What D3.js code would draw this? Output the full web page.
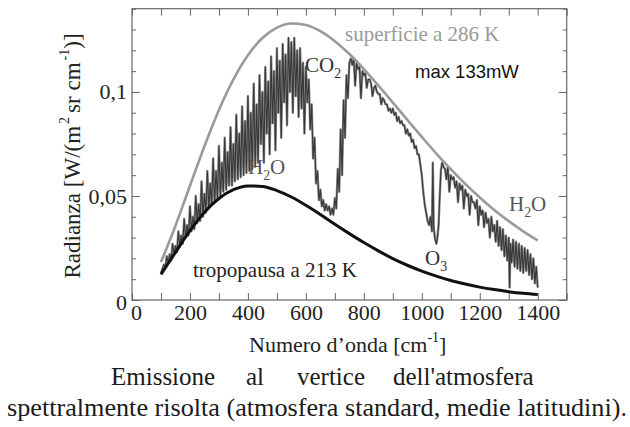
<!DOCTYPE html>
<html><head><meta charset="utf-8">
<script src="https://cdn.jsdelivr.net/npm/d3@7"></script>
<style>
html,body{margin:0;padding:0;background:#fff;}
svg{display:block;}
</style></head>
<body>
<svg id="chart" width="630" height="427"></svg>
<script>
// ---- data ----
const xTickLabels = [0, 200, 400, 600, 800, 1000, 1200, 1400];
const yTickLabels = [0, 0.05, 0.1];
const yTickText = ["0", "0,05", "0,1"];

const curveNu = [100,150,200,250,300,350,400,450,500,550,600,650,700,750,800,850,900,950,1000,1050,1100,1150,1200,1250,1300,1350,1400];
const surface286 = [0.0182,0.0357,0.0549,0.0739,0.0913,0.1060,0.1176,0.1259,0.1309,0.1329,0.1322,0.1292,0.1244,0.1182,0.1110,0.1031,0.0949,0.0866,0.0784,0.0704,0.0629,0.0558,0.0493,0.0433,0.0379,0.0330,0.0286];
const tropo213 = [0.0123,0.0229,0.0333,0.0422,0.0488,0.0530,0.0548,0.0546,0.0526,0.0495,0.0455,0.0411,0.0364,0.0319,0.0276,0.0236,0.0199,0.0167,0.0139,0.0115,0.0094,0.0077,0.0062,0.0050,0.0040,0.0032,0.0026];

// top-of-atmosphere spectrum: [wavenumber, radiance]
const spectrum = [
 [100,.013],[105,.015],[110,.017],[115,.016],[120,.021],[125,.018],[130,.022],[135,.019],[140,.027],[145,.022],
 [150,.026],[155,.023],[160,.033],[165,.026],[170,.031],[175,.027],[180,.039],[185,.030],[190,.036],[195,.031],
 [200,.045],[205,.033],[210,.040],[215,.034],[220,.050],[225,.037],[230,.046],[235,.038],[240,.057],[245,.040],
 [250,.051],[255,.042],[260,.062],[265,.044],[270,.056],[275,.046],[280,.068],[285,.047],[290,.062],[295,.049],
 [300,.074],[305,.050],[310,.066],[315,.052],[320,.078],[325,.053],[330,.071],[335,.055],[340,.083],[345,.055],
 [350,.075],[355,.057],[360,.089],[365,.058],[370,.080],[375,.059],[380,.093],[385,.060],[390,.086],[395,.061],
 [400,.098],[405,.062],[410,.090],[415,.063],[420,.104],[425,.064],[430,.094],[435,.066],[440,.108],[445,.075],
 [450,.100],[455,.066],[460,.112],[465,.080],[470,.105],[475,.070],[480,.117],[485,.085],[490,.110],[495,.072],
 [500,.121],[505,.090],[510,.115],[515,.078],[520,.123],[525,.095],[530,.118],[535,.084],[540,.126],[545,.100],
 [550,.124],[555,.090],[560,.126],[565,.098],[570,.120],[575,.088],[580,.121],[585,.092],[590,.114],[595,.080],
 [600,.112],[605,.095],[610,.106],[615,.082],[620,.094],[625,.068],[630,.078],[635,.056],[640,.062],[645,.048],
 [650,.053],[655,.045],[660,.048],[665,.043],[670,.046],[675,.043],[680,.045],[685,.041],[690,.044],[695,.041],
 [700,.049],[705,.044],[710,.063],[715,.052],[720,.082],[725,.060],[730,.096],[735,.078],[740,.108],[745,.097],
 [750,.114],[755,.116],[760,.113],[765,.116],[770,.103],[775,.114],[780,.111],[785,.112],[790,.097],[795,.110],
 [800,.108],[805,.109],[810,.102],[815,.106],[820,.106],[825,.104],[830,.098],[835,.102],[840,.103],[845,.100],
 [850,.099],[855,.099],[860,.094],[865,.097],[870,.096],[875,.094],[880,.094],[885,.091],[890,.092],[895,.090],
 [900,.092],[905,.089],[910,.090],[915,.086],[920,.088],[925,.085],[930,.086],[935,.084],[940,.084],[945,.080],
 [950,.082],[955,.079],[960,.080],[965,.076],[970,.077],[975,.073],[980,.074],[985,.070],[990,.070],[1000,.060],
 [1005,.052],[1010,.046],[1015,.042],[1020,.038],[1025,.036],[1030,.040],[1035,.033],[1038,.066],[1041,.035],[1045,.030],
 [1050,.027],[1053,.029],[1058,.036],[1062,.050],[1066,.062],[1070,.066],[1075,.064],[1080,.063],[1085,.058],[1090,.064],
 [1095,.052],[1100,.060],[1105,.058],[1110,.059],[1115,.054],[1120,.057],[1125,.047],[1130,.056],[1135,.053],[1140,.055],
 [1145,.044],[1150,.053],[1155,.050],[1160,.051],[1165,.041],[1170,.050],[1175,.047],[1180,.047],[1185,.044],[1190,.048],
 [1195,.036],[1200,.045],[1205,.041],[1210,.043],[1215,.035],[1220,.042],[1225,.037],[1230,.039],[1235,.030],[1240,.040],
 [1245,.033],[1250,.036],[1255,.028],[1260,.038],[1265,.026],[1270,.035],[1275,.024],[1280,.034],[1285,.021],[1290,.031],
 [1295,.019],[1300,.030],[1303,.006],[1306,.027],[1310,.018],[1315,.029],[1320,.016],[1325,.028],[1330,.015],[1335,.027],
 [1340,.014],[1345,.026],[1350,.013],[1355,.025],[1360,.014],[1365,.024],[1370,.012],[1375,.022],[1380,.010],[1385,.020],
 [1390,.008],[1395,.016],[1400,.006]];

// ---- layout ----
const SERIF = "'Liberation Serif','Times New Roman',serif";
const SANS = "'Liberation Sans',Arial,sans-serif";
const W = 630, H = 427;
const m = {left:132, right:63.3, top:8.7, bottom:127};
const iw = W - m.left - m.right, ih = H - m.top - m.bottom;

const svg = d3.select("#chart").style("font-family", SERIF);
const x = d3.scaleLinear().domain([0,1500]).range([m.left, m.left+iw]);
const y = d3.scaleLinear().domain([0,0.14]).range([m.top+ih, m.top]);

const frameCol = "#666";

// ticks (inside)
const xt = d3.range(0,1501,100);
const yAll = d3.range(0,15).map(i=>+(i*0.01).toFixed(2));
function tickStyle(g){ g.select(".domain").remove(); g.selectAll("line").attr("stroke",frameCol); g.selectAll("text").remove(); }
svg.append("g").attr("transform",`translate(0,${m.top+ih})`).call(d3.axisBottom(x).tickValues(xt).tickSize(-7)).call(tickStyle);
svg.append("g").attr("transform",`translate(0,${m.top})`).call(d3.axisTop(x).tickValues(xt).tickSize(-7)).call(tickStyle);
const yMaj = yAll.filter((v,i)=>i%5===0);
const yMin = yAll.filter((v,i)=>i%5!==0);
svg.append("g").attr("transform",`translate(${m.left},0)`).call(d3.axisLeft(y).tickValues(yMin).tickSize(-4)).call(tickStyle);
svg.append("g").attr("transform",`translate(${m.left},0)`).call(d3.axisLeft(y).tickValues(yMaj).tickSize(-8)).call(tickStyle);
svg.append("g").attr("transform",`translate(${m.left+iw},0)`).call(d3.axisRight(y).tickValues(yMin).tickSize(-4)).call(tickStyle);
svg.append("g").attr("transform",`translate(${m.left+iw},0)`).call(d3.axisRight(y).tickValues(yMaj).tickSize(-8)).call(tickStyle);

// frame
svg.append("rect").attr("x",m.left).attr("y",m.top).attr("width",iw).attr("height",ih)
  .attr("fill","none").attr("stroke",frameCol).attr("stroke-width",1.2);

// tick labels
const xl = svg.append("g").attr("transform",`translate(0,${m.top+ih})`)
  .call(d3.axisBottom(x).tickValues(xTickLabels).tickSize(0).tickPadding(4).tickFormat(d3.format("d")));
xl.select(".domain").remove();
xl.selectAll("text").attr("font-size",22).attr("fill","#222").style("font-family",SERIF)
  .attr("dx", d => d===0 ? 4 : 0);
const yl = svg.append("g").attr("transform",`translate(${m.left},0)`)
  .call(d3.axisLeft(y).tickValues(yTickLabels).tickSize(0).tickPadding(5).tickFormat((d,i)=>yTickText[i]));
yl.select(".domain").remove();
yl.selectAll("text").attr("font-size",22).attr("fill","#222").style("font-family",SERIF)
  .attr("dy", d => d===0 ? "0.45em" : "0.32em");

// curves
const line = d3.line().x(d=>x(d[0])).y(d=>y(d[1]));
const smooth = d3.line().x(d=>x(d[0])).y(d=>y(d[1])).curve(d3.curveMonotoneX);
svg.append("defs").append("clipPath").attr("id","clip").append("rect")
  .attr("x",m.left).attr("y",m.top).attr("width",iw).attr("height",ih);
const plot = svg.append("g").attr("clip-path","url(#clip)");

plot.append("path").datum(spectrum)
  .attr("d",line).attr("fill","none").attr("stroke","#8c8c8c").attr("stroke-width",2.4).attr("stroke-linejoin","round");
plot.append("path").datum(spectrum)
  .attr("d",line).attr("fill","none").attr("stroke","#383838").attr("stroke-width",1.1).attr("stroke-linejoin","round");
plot.append("path").datum(curveNu.map((n,i)=>[n,surface286[i]]))
  .attr("d",smooth).attr("fill","none").attr("stroke","#9a9a9a").attr("stroke-width",2.6);
plot.append("path").datum(curveNu.map((n,i)=>[n,tropo213[i]]))
  .attr("d",smooth).attr("fill","none").attr("stroke","#111").attr("stroke-width",3);

// annotations
function label(main, sub, after, xx, yy, col, size){
  const t = svg.append("text").attr("x",xx).attr("y",yy).attr("font-size",size).attr("fill",col);
  t.append("tspan").text(main);
  t.append("tspan").attr("font-size",size*0.66).attr("dy",6).text(sub);
  if(after){ t.append("tspan").attr("dy",-6).text(after); }
  return t;
}
svg.append("text").attr("x",345).attr("y",41).attr("font-size",21).attr("fill","#9a9a9a").text("superficie a 286 K");
svg.append("text").attr("x",415).attr("y",78).attr("font-size",18.5).attr("fill","#111")
  .style("font-family",SANS).text("max 133mW");
label("CO","2","",305,72,"#333",21);
label("H","2","O",248,174,"#555",21);
label("H","2","O",509,211,"#555",21);
label("O","3","",425,265,"#333",21);
svg.append("text").attr("x",193).attr("y",277).attr("font-size",21).attr("fill","#222").text("tropopausa a 213 K");

// axis titles
const xt2 = svg.append("text").attr("x",249).attr("y",352).attr("font-size",22).attr("fill","#222");
xt2.append("tspan").text("Numero d\u2019onda [cm");
xt2.append("tspan").attr("font-size",14).attr("dy",-10).text("-1");
xt2.append("tspan").attr("dy",10).text("]");

const yt = svg.append("text").attr("transform","translate(80,156) rotate(-90)")
  .attr("text-anchor","middle").attr("font-size",23).attr("fill","#222");
yt.append("tspan").text("Radianza [W/(m");
yt.append("tspan").attr("font-size",14).attr("dy",-11).attr("dx",2).text("2");
yt.append("tspan").attr("dy",11).attr("dx",4).text("sr cm");
yt.append("tspan").attr("font-size",14).attr("dy",-11).attr("dx",2).text("-1");
yt.append("tspan").attr("dy",11).text(")]");

// caption
const words = [["Emissione",111],["al",246],["vertice",297],["dell'atmosfera",393]];
words.forEach(w=>svg.append("text").attr("x",w[1]).attr("y",385).attr("font-size",25).attr("fill","#1a1a1a").text(w[0]));
svg.append("text").attr("x",7).attr("y",416).attr("font-size",25).attr("fill","#1a1a1a")
  .attr("textLength",620).attr("lengthAdjust","spacingAndGlyphs")
  .text("spettralmente risolta (atmosfera standard, medie latitudini).");
</script>
</body></html>
